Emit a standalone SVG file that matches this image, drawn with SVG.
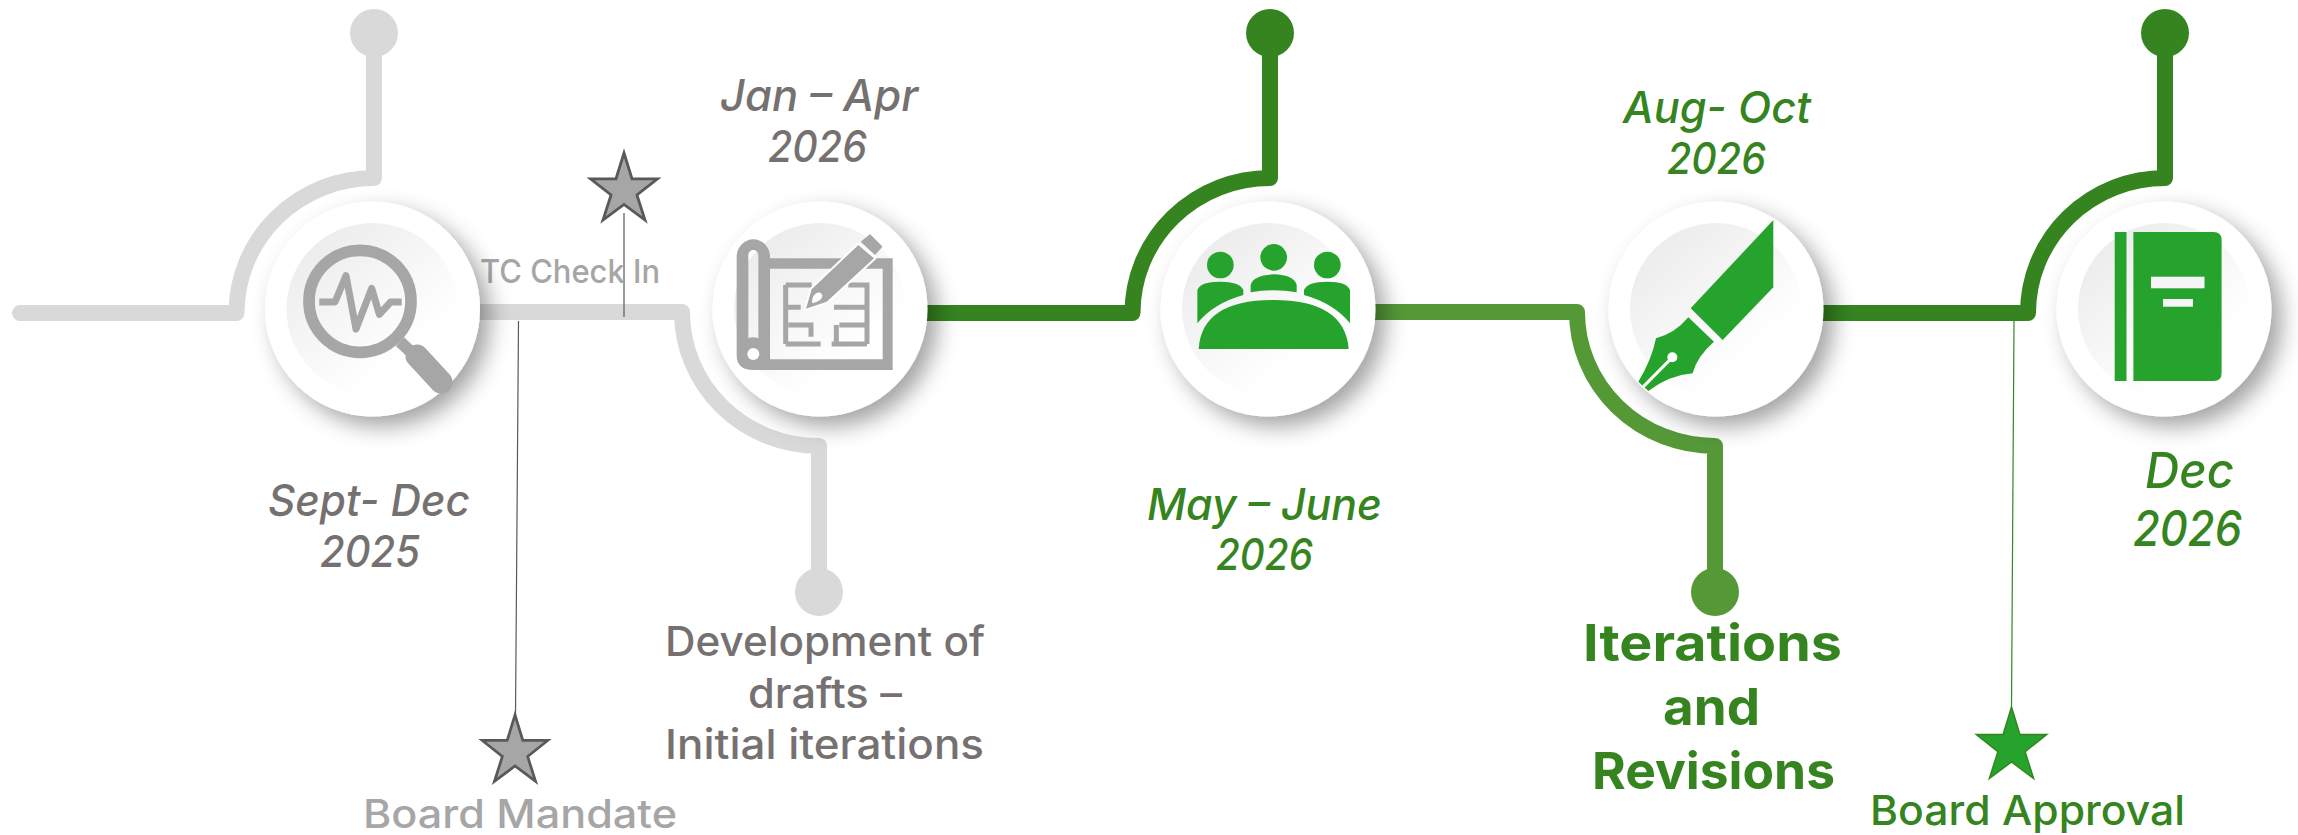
<svg xmlns="http://www.w3.org/2000/svg" width="2298" height="835" viewBox="0 0 2298 835">
<style>
.t{font-family:"Inter","Lato","Liberation Sans",sans-serif;text-anchor:start;font-weight:500}
.d{font-style:italic;font-size:44px}
.gy{fill:#767171}.lg{fill:#A6A6A6}.gn{fill:#358420}
.w{fill:none;stroke-width:16;stroke-linejoin:round}
.gl{stroke:#D9D9D9}.dk{stroke:#358420}.md{stroke:#559937}
.ig{fill:#A6A6A6}.ic{fill:#26A32D}
</style>
<defs>
<filter id="sh" x="-30%" y="-30%" width="170%" height="170%"><feDropShadow dx="10" dy="10" stdDeviation="11" flood-color="#000" flood-opacity=".36"/></filter>
<linearGradient id="ing" x1="0.15" y1="0.1" x2="0.7" y2="0.75"><stop offset="0" stop-color="#ececec"/><stop offset="1" stop-color="#fff"/></linearGradient>
<circle id="disc" r="107.500" fill="#fff" filter="url(#sh)"/>
<circle id="inner" r="86" fill="url(#ing)"/>
<polygon id="star" points="0,0 8.600,28 36,28 13.900,45.600 22.600,73 0,56 -22.600,73 -13.900,45.600 -36,28 -8.600,28"/>
</defs>
<g id="connectors">
<g>
<path class="w gl" stroke-linecap="round" d="M20 313H236.500A137.500 135 0 0 1 374 178V50"/>
<circle cx="374" cy="33" r="24" fill="#D9D9D9"/>
<path class="w gl" d="M470 312H682A137 134 0 0 0 819 446V575"/>
<circle cx="819" cy="592" r="24" fill="#D9D9D9"/>
<path class="w dk" d="M920 313H1132.500A137.500 135 0 0 1 1270 178V50"/>
<circle cx="1270" cy="33" r="24" fill="#358420"/>
<path class="w md" d="M1365 312H1577A138 134 0 0 0 1715 446V575"/>
<circle cx="1715" cy="592" r="24" fill="#559937"/>
<path class="w dk" d="M1815 313H2028A137 135 0 0 1 2165 178V50"/>
<circle cx="2165" cy="33" r="24" fill="#358420"/>
</g>
<path d="M518.500 321L515.500 716" stroke="#595959" stroke-width="1.200" fill="none"/>
<path d="M624 213V317" stroke="#595959" stroke-width="1.200" fill="none"/>
<path d="M2014 321L2011.500 708" stroke="#2F8A2A" stroke-width="1.200" fill="none"/>
</g>
<g id="milestone-tc-check-in">
<use href="#star" transform="translate(624 153) scale(.93 .92)" fill="#A6A6A6" stroke="#595959" stroke-width="3"/>
<text class="t lg" x="480" y="283" font-size="33" textLength="180" lengthAdjust="spacingAndGlyphs">TC Check In</text>
</g>
<g id="milestone-board-mandate">
<use href="#star" transform="translate(515 715) scale(.91 .91)" fill="#A6A6A6" stroke="#595959" stroke-width="3"/>
<text class="t lg" x="363" y="828" font-size="39" textLength="314" lengthAdjust="spacingAndGlyphs">Board Mandate</text>
</g>
<g id="milestone-board-approval">
<use href="#star" transform="translate(2011.500 707) scale(.98 .98)" fill="#26A32D" stroke="#358420" stroke-width="1.500"/>
<text class="t gn" x="1870" y="825" font-size="41" textLength="315" lengthAdjust="spacingAndGlyphs">Board Approval</text>
</g>
<g id="node-sept-dec">
<use href="#disc" x="372.500" y="309"/><use href="#inner" x="372.500" y="309"/>
<circle cx="360" cy="301.300" r="51" fill="none" stroke="#A6A6A6" stroke-width="11.700"/>
<path d="M319.300 302H335L346 275.700L356 329L371.700 288.300L379.300 314.300L390.700 302H401.700" fill="none" stroke="#A6A6A6" stroke-width="7" stroke-linejoin="round"/>
<path d="M400 341.700L413 354" stroke="#A6A6A6" stroke-width="12" fill="none"/>
<path d="M417 356L441 382" stroke="#A6A6A6" stroke-width="23" stroke-linecap="round" fill="none"/>
<text class="t d gy" x="268" y="516" textLength="202" lengthAdjust="spacingAndGlyphs">Sept- Dec</text>
<text class="t d gy" x="320" y="567" textLength="100" lengthAdjust="spacingAndGlyphs">2025</text>
</g>
<g id="node-jan-apr">
<use href="#disc" x="820" y="309"/><use href="#inner" x="820" y="309"/>
<g transform="translate(730 230) scale(.33333)">
<path class="ig" fill-rule="evenodd" d="M20 80A50 52 0 0 1 120 80V85H488V420H70Q20 420 20 375ZM120 116V388H458V116ZM55 75V325Q70 318 85 325V75A15 15 0 0 0 55 75Z"/>
<circle cx="70" cy="372" r="18" fill="#fff"/>
<path d="M167 165H245M167 165V342M167 232H212M175 285H243V320M167 342H272M355 165H411V342M312 232H411M328 285H405M319 285V342M305 342H411" fill="none" stroke="#A6A6A6" stroke-width="15"/>
<path d="M228 236L245 178L385 45L432 85L290 215Z" class="ig" stroke="#fff" stroke-width="12" stroke-linejoin="round" paint-order="stroke"/>
<path d="M395 35L420 15L455 50L435 72Z" class="ig" stroke="#A6A6A6" stroke-width="4" stroke-linejoin="round"/>
<path d="M246 220Q246 190 268 187Q285 195 270 210Q260 218 246 220Z" fill="#fff"/>
</g>
<text class="t d gy" x="720" y="111" textLength="198" lengthAdjust="spacingAndGlyphs">Jan – Apr</text>
<text class="t d gy" x="768" y="162" textLength="99" lengthAdjust="spacingAndGlyphs">2026</text>
<text class="t gy" x="665" y="656" font-size="41" textLength="320" lengthAdjust="spacingAndGlyphs">Development of</text>
<text class="t gy" x="748" y="708" font-size="41" textLength="154" lengthAdjust="spacingAndGlyphs">drafts –</text>
<text class="t gy" x="665" y="759" font-size="41" textLength="319" lengthAdjust="spacingAndGlyphs">Initial iterations</text>
</g>
<g id="node-may-june">
<use href="#disc" x="1268" y="309"/><use href="#inner" x="1268" y="309"/>
<g class="ic" transform="translate(1190 235) scale(.33333)">
<circle cx="91" cy="90" r="40"/><circle cx="251" cy="67" r="40"/><circle cx="412" cy="90" r="40"/>
<path d="M182 172V150Q190 120 251 118Q312 120 320 150V172Q250 160 182 172Z"/>
<path d="M22 265V165Q30 140 90 140Q150 140 160 165V180Q70 205 22 265Z"/>
<path d="M480 265V165Q472 140 412 140Q352 140 342 165V180Q432 205 480 265Z"/>
<path d="M26 342Q35 195 250 195Q465 195 476 342Z"/>
</g>
<text class="t d gn" x="1147" y="520" textLength="235" lengthAdjust="spacingAndGlyphs">May – June</text>
<text class="t d gn" x="1216" y="570" textLength="97" lengthAdjust="spacingAndGlyphs">2026</text>
</g>
<g id="node-aug-oct">
<use href="#disc" x="1716" y="309"/><use href="#inner" x="1716" y="309"/>
<g transform="translate(1620 210) scale(.33333)">
<path class="ic" d="M460 30V232L308 390L212 295Z"/>
<path class="ic" d="M205 322L282 395Q230 440 218 490Q150 495 85 543L55 515Q95 450 108 385Q165 370 205 322Z"/>
<path d="M157 442L70 530" stroke="#fff" stroke-width="9" fill="none"/>
<circle cx="157" cy="442" r="15" fill="#fff"/>
</g>
<text class="t d gn" x="1623" y="123" textLength="188" lengthAdjust="spacingAndGlyphs">Aug- Oct</text>
<text class="t d gn" x="1667" y="174" textLength="99" lengthAdjust="spacingAndGlyphs">2026</text>
<text class="t gn" x="1583" y="661" font-size="51" style="font-weight:700" textLength="259" lengthAdjust="spacingAndGlyphs">Iterations</text>
<text class="t gn" x="1663" y="725" font-size="51" style="font-weight:700" textLength="97" lengthAdjust="spacingAndGlyphs">and</text>
<text class="t gn" x="1592" y="789" font-size="51" style="font-weight:700" textLength="243" lengthAdjust="spacingAndGlyphs">Revisions</text>
</g>
<g id="node-dec">
<use href="#disc" x="2164" y="309"/><use href="#inner" x="2164" y="309"/>
<rect class="ic" x="2114.700" y="232" width="11.800" height="149"/>
<path class="ic" d="M2133.400 232H2213.600Q2221.600 232 2221.600 240V373Q2221.600 381 2213.600 381H2133.400Z"/>
<rect x="2151" y="276.700" width="53.500" height="11.600" fill="#F5F5F5"/>
<rect x="2163" y="299" width="30" height="7.700" fill="#F5F5F5"/>
<text class="t gn" x="2145" y="488" font-style="italic" font-size="49" textLength="89" lengthAdjust="spacingAndGlyphs">Dec</text>
<text class="t gn" x="2133" y="546" font-style="italic" font-size="49" textLength="109" lengthAdjust="spacingAndGlyphs">2026</text>
</g>
</svg>
